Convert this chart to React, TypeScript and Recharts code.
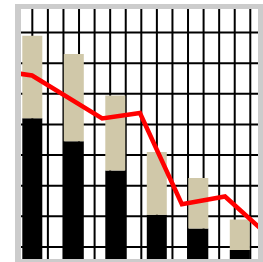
import React from 'react';
import { ComposedChart, Bar, Line, XAxis, YAxis, CartesianGrid } from 'recharts';

// bar categories and stacked values
const categories = ['A', 'B', 'C', 'D', 'E', 'F'];
const baseValues = [94, 79, 60, 31, 22, 8];
const topValues = [54, 57, 49, 41, 33, 20];

// red line, x in category-index units (0 = first bar centre)
const linePosX = [-0.5, 0, 1.69, 2.6, 3.61, 4.65, 5.73];
const lineValues = [124, 122, 94, 97.5, 38, 43, 16.5];

// horizontal grid follows the value ticks
const yTicks = [0, 10, 20, 30, 40, 50, 60, 70, 80, 90, 100, 110, 120, 130, 140, 150, 160, 170];

// background grid pattern: vertical lines
const GRID_X0 = 16.75;
const GRID_DX = 15.57;
const verticalPoints = Array.from({ length: 17 }, (_, k) => GRID_X0 + k * GRID_DX);

const barData = categories.map((name, i) => ({ name, base: baseValues[i], top: topValues[i] }));
const lineData = linePosX.map((x, i) => ({ x, v: lineValues[i] }));

export default function App() {
  return (
    <div style={{ position: 'fixed', left: 0, top: 0, width: 263, height: 262, overflow: 'hidden', background: '#fff' }}>
      <div style={{ position: 'absolute', left: 15, top: 4, width: 260, height: 270, background: '#cccccc' }} />
      <div style={{ position: 'absolute', left: 20.5, top: 9, width: 237.2, height: 250, overflow: 'hidden', background: '#fff' }}>
        <div style={{ position: 'absolute', left: -20.5, top: -9 }}>
          <ComposedChart
            width={280}
            height={272}
            data={barData}
            margin={{ top: 2, right: 19.7, left: 11.3, bottom: 9.7 }}
          >
            <CartesianGrid stroke="#000" strokeWidth={2} verticalPoints={verticalPoints} />
            <XAxis dataKey="name" hide />
            <XAxis
              xAxisId="line"
              type="number"
              dataKey="x"
              domain={[-0.5, 5.5]}
              allowDataOverflow
              hide
            />
            <YAxis domain={[0, 170]} ticks={yTicks} allowDataOverflow hide />
            <Bar dataKey="base" stackId="s" fill="#000000" barSize={20} isAnimationActive={false} />
            <Bar dataKey="top" stackId="s" fill="#d0c8a9" barSize={20} isAnimationActive={false} />
            <Line
              xAxisId="line"
              data={lineData}
              dataKey="v"
              stroke="#ff0000"
              strokeWidth={4.5}
              dot={false}
              activeDot={false}
              type="linear"
              isAnimationActive={false}
            />
          </ComposedChart>
        </div>
      </div>
    </div>
  );
}
